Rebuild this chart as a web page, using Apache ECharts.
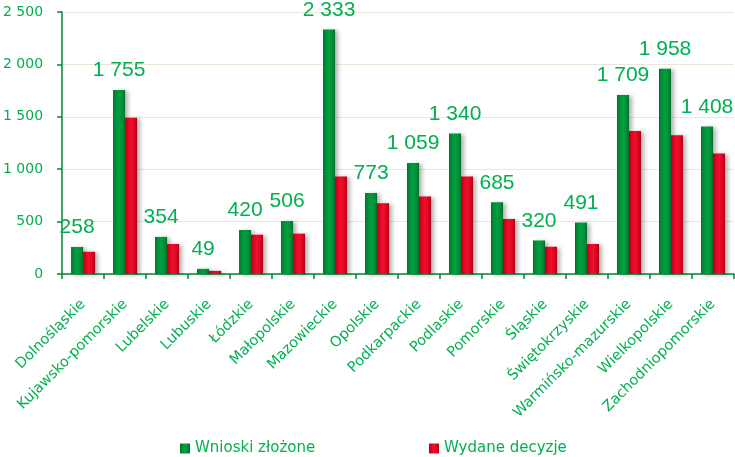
<!DOCTYPE html>
<html>
<head>
<meta charset="utf-8">
<script src="https://cdn.jsdelivr.net/npm/echarts@6/dist/echarts.min.js"></script>
<style>
html,body{margin:0;padding:0;background:#fff;}
#chart{width:735px;height:457px;}
</style>
</head>
<body>
<div id="chart"></div>
<script>
const categories = ['Dolnośląskie','Kujawsko-pomorskie','Lubelskie','Lubuskie','Łódzkie','Małopolskie','Mazowieckie','Opolskie','Podkarpackie','Podlaskie','Pomorskie','Śląskie','Świętokrzyskie','Warmińsko-mazurskie','Wielkopolskie','Zachodniopomorskie'];
const wnioski = [258,1755,354,49,420,506,2333,773,1059,1340,685,320,491,1709,1958,1408];
const decyzje = [212,1490,286,30,375,385,930,675,740,930,525,260,286,1365,1323,1150];
const seriesNames = ['Wnioski złożone','Wydane decyzje'];
const yTicks = [0,500,1000,1500,2000,2500];

const green = '#00B050';
const axisGreen = '#00873A';
function fmt(v){ return String(v).replace(/\B(?=(\d{3})+(?!\d))/g,' '); }

function barGrad(dark, mid, light){
  return new echarts.graphic.LinearGradient(0,0,1,0,[
    {offset:0,color:dark},{offset:0.15,color:mid},{offset:0.5,color:light},{offset:0.85,color:mid},{offset:1,color:dark}
  ]);
}

const chart = echarts.init(document.getElementById('chart'), null, {renderer:'canvas'});
chart.setOption({
  animation:false,
  backgroundColor:'#fff',
  grid:{left:59,right:1,top:12,bottom:183,containLabel:false},
  legend:[
    {data:[seriesNames[0]],left:180,top:441,padding:0,itemWidth:10,itemHeight:10,icon:'rect',
     textStyle:{color:green,fontFamily:'DejaVu Sans',fontSize:15},itemGap:5},
    {data:[seriesNames[1]],left:429,top:441,padding:0,itemWidth:10,itemHeight:10,icon:'rect',
     textStyle:{color:green,fontFamily:'DejaVu Sans',fontSize:15},itemGap:5}
  ],
  xAxis:{
    type:'category',data:categories,boundaryGap:true,
    axisLine:{lineStyle:{color:axisGreen,width:1.5}},
    axisTick:{show:true,length:5,inside:false,lineStyle:{color:axisGreen,width:1.5}},
    axisLabel:{rotate:45,interval:0,margin:28,color:green,fontFamily:'DejaVu Sans',fontSize:14.5}
  },
  yAxis:{
    type:'value',min:0,max:2500,interval:500,
    axisLine:{show:true,lineStyle:{color:axisGreen,width:1.5}},
    axisTick:{show:true,length:5,lineStyle:{color:axisGreen,width:1.5}},
    splitLine:{show:true,lineStyle:{color:'#E8E8D8',width:1}},
    axisLabel:{margin:19,color:green,fontFamily:'DejaVu Sans',fontSize:14,
      formatter:function(v){ return yTicks.indexOf(v)>=0 ? fmt(v) : ''; }}
  },
  series:[
    {name:seriesNames[0],type:'bar',data:wnioski,barWidth:12,barGap:'0%',
     itemStyle:{color:barGrad('#006A27','#008A35','#00A040'),shadowColor:'rgba(0,0,0,0.3)',shadowBlur:4,shadowOffsetX:3,shadowOffsetY:1},
     label:{show:true,position:'top',distance:9,color:green,fontFamily:'Liberation Sans',fontSize:21,formatter:function(p){return fmt(p.value);}}
    },
    {name:seriesNames[1],type:'bar',data:decyzje,barWidth:12,
     itemStyle:{color:barGrad('#A80016','#D8001C','#F0102C'),shadowColor:'rgba(0,0,0,0.3)',shadowBlur:4,shadowOffsetX:3,shadowOffsetY:1}
    }
  ]
});
</script>
</body>
</html>
